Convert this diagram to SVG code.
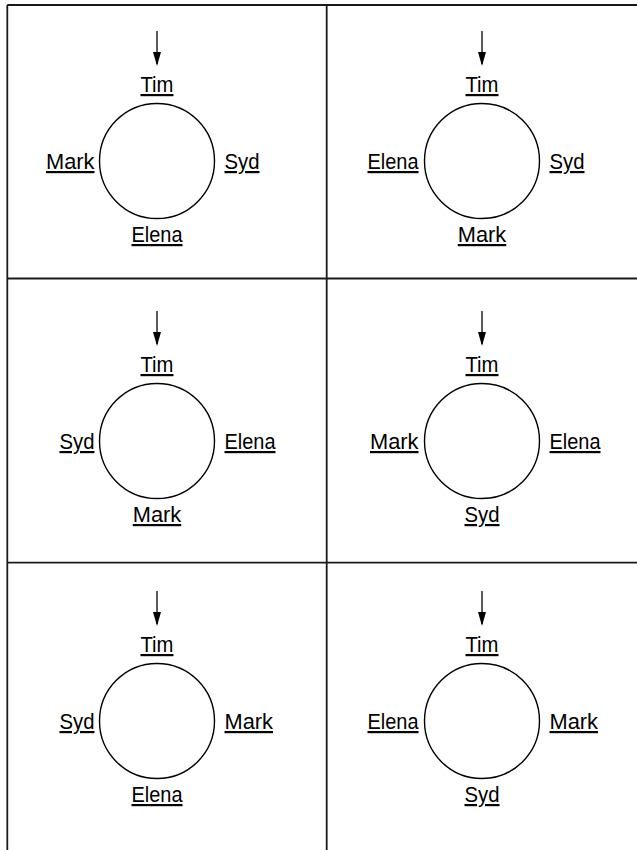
<svg xmlns="http://www.w3.org/2000/svg" width="637" height="850" viewBox="0 0 637 850">
  <style>
    .grid { stroke: #1a1a1a; stroke-width: 1.8; fill: none; }
    .ring { stroke: #000; stroke-width: 1.4; fill: none; }
    .arrow { stroke: #000; stroke-width: 1.3; fill: none; marker-end: url(#ah); }
    .lbl { font-family: "Liberation Sans", Arial, sans-serif; font-size: 22px; fill: #000; text-decoration: underline; text-underline-offset: 4px; }
    .mid { text-anchor: middle; }
    .end { text-anchor: end; }
    .start { text-anchor: start; }
  </style>
  <defs>
    <marker id="ah" markerUnits="userSpaceOnUse" viewBox="0 0 14 8" markerWidth="14" markerHeight="8" refX="12" refY="4" orient="auto">
      <path d="M0,0 L14,4 L0,8 z" fill="#000"/>
    </marker>
  </defs>
  <rect width="637" height="850" fill="#fff"/>
  <g id="grid">
    <line class="grid" x1="7.3" y1="5" x2="637" y2="5"/>
    <line class="grid" x1="7.3" y1="5" x2="7.3" y2="850"/>
    <line class="grid" x1="326.7" y1="5" x2="326.7" y2="850"/>
    <line class="grid" x1="7.3" y1="278.5" x2="637" y2="278.5"/>
    <line class="grid" x1="7.3" y1="562.7" x2="637" y2="562.7"/>
  </g>
  <g id="connectors">
    <line class="arrow" x1="157" y1="31" x2="157" y2="64"/>
    <line class="arrow" x1="482" y1="31" x2="482" y2="64"/>
    <line class="arrow" x1="157" y1="311" x2="157" y2="344"/>
    <line class="arrow" x1="482" y1="311" x2="482" y2="344"/>
    <line class="arrow" x1="157" y1="591" x2="157" y2="624"/>
    <line class="arrow" x1="482" y1="591" x2="482" y2="624"/>
  </g>
  <g id="cell-1">
    <circle class="ring" cx="157" cy="161" r="57.5"/>
    <text class="lbl mid" x="157" y="92" textLength="33" lengthAdjust="spacingAndGlyphs">Tim</text>
    <text class="lbl end" x="94.5" y="169" textLength="48.5" lengthAdjust="spacingAndGlyphs">Mark</text>
    <text class="lbl start" x="224.5" y="169" textLength="35" lengthAdjust="spacingAndGlyphs">Syd</text>
    <text class="lbl mid" x="157" y="242" textLength="51" lengthAdjust="spacingAndGlyphs">Elena</text>
  </g>
  <g id="cell-2">
    <circle class="ring" cx="482" cy="161" r="57.5"/>
    <text class="lbl mid" x="482" y="92" textLength="33" lengthAdjust="spacingAndGlyphs">Tim</text>
    <text class="lbl end" x="418.5" y="169" textLength="51" lengthAdjust="spacingAndGlyphs">Elena</text>
    <text class="lbl start" x="549.5" y="169" textLength="35" lengthAdjust="spacingAndGlyphs">Syd</text>
    <text class="lbl mid" x="482" y="242" textLength="48.5" lengthAdjust="spacingAndGlyphs">Mark</text>
  </g>
  <g id="cell-3">
    <circle class="ring" cx="157" cy="441" r="57.5"/>
    <text class="lbl mid" x="157" y="372" textLength="33" lengthAdjust="spacingAndGlyphs">Tim</text>
    <text class="lbl end" x="94.5" y="449" textLength="35" lengthAdjust="spacingAndGlyphs">Syd</text>
    <text class="lbl start" x="224.5" y="449" textLength="51" lengthAdjust="spacingAndGlyphs">Elena</text>
    <text class="lbl mid" x="157" y="522" textLength="48.5" lengthAdjust="spacingAndGlyphs">Mark</text>
  </g>
  <g id="cell-4">
    <circle class="ring" cx="482" cy="441" r="57.5"/>
    <text class="lbl mid" x="482" y="372" textLength="33" lengthAdjust="spacingAndGlyphs">Tim</text>
    <text class="lbl end" x="418.5" y="449" textLength="48.5" lengthAdjust="spacingAndGlyphs">Mark</text>
    <text class="lbl start" x="549.5" y="449" textLength="51" lengthAdjust="spacingAndGlyphs">Elena</text>
    <text class="lbl mid" x="482" y="522" textLength="35" lengthAdjust="spacingAndGlyphs">Syd</text>
  </g>
  <g id="cell-5">
    <circle class="ring" cx="157" cy="721" r="57.5"/>
    <text class="lbl mid" x="157" y="652" textLength="33" lengthAdjust="spacingAndGlyphs">Tim</text>
    <text class="lbl end" x="94.5" y="729" textLength="35" lengthAdjust="spacingAndGlyphs">Syd</text>
    <text class="lbl start" x="224.5" y="729" textLength="48.5" lengthAdjust="spacingAndGlyphs">Mark</text>
    <text class="lbl mid" x="157" y="802" textLength="51" lengthAdjust="spacingAndGlyphs">Elena</text>
  </g>
  <g id="cell-6">
    <circle class="ring" cx="482" cy="721" r="57.5"/>
    <text class="lbl mid" x="482" y="652" textLength="33" lengthAdjust="spacingAndGlyphs">Tim</text>
    <text class="lbl end" x="418.5" y="729" textLength="51" lengthAdjust="spacingAndGlyphs">Elena</text>
    <text class="lbl start" x="549.5" y="729" textLength="48.5" lengthAdjust="spacingAndGlyphs">Mark</text>
    <text class="lbl mid" x="482" y="802" textLength="35" lengthAdjust="spacingAndGlyphs">Syd</text>
  </g>
</svg>
